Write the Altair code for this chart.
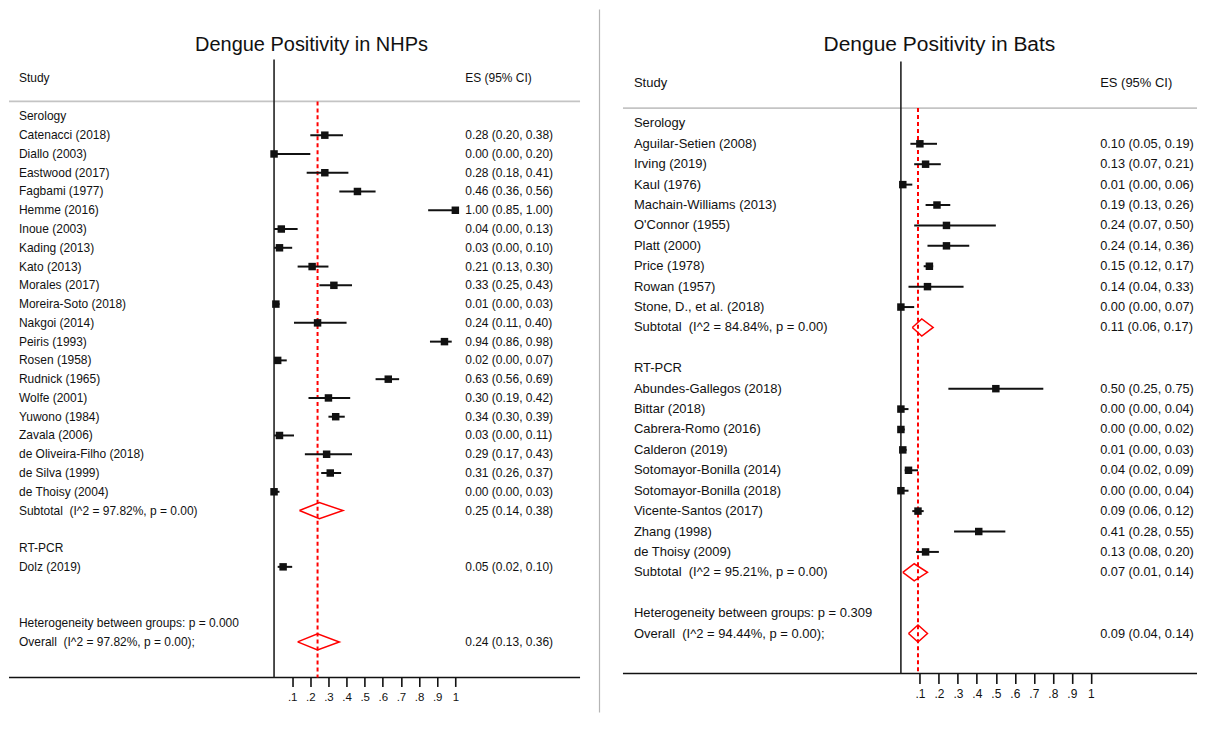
import altair as alt
import pandas as pd

# ---------------- data: Dengue positivity in NHPs ----------------
nhp_title = "Dengue Positivity in NHPs"
nhp_ser_study = ["Catenacci (2018)", "Diallo (2003)", "Eastwood (2017)", "Fagbami (1977)",
                 "Hemme (2016)", "Inoue (2003)", "Kading (2013)", "Kato (2013)",
                 "Morales (2017)", "Moreira-Soto (2018)", "Nakgoi (2014)", "Peiris (1993)",
                 "Rosen (1958)", "Rudnick (1965)", "Wolfe (2001)", "Yuwono (1984)",
                 "Zavala (2006)", "de Oliveira-Filho (2018)", "de Silva (1999)", "de Thoisy (2004)"]
nhp_ser_es = [0.28, 0.00, 0.28, 0.46, 1.00, 0.04, 0.03, 0.21, 0.33, 0.01, 0.24, 0.94,
              0.02, 0.63, 0.30, 0.34, 0.03, 0.29, 0.31, 0.00]
nhp_ser_lo = [0.20, 0.00, 0.18, 0.36, 0.85, 0.00, 0.00, 0.13, 0.25, 0.00, 0.11, 0.86,
              0.00, 0.56, 0.19, 0.30, 0.00, 0.17, 0.26, 0.00]
nhp_ser_hi = [0.38, 0.20, 0.41, 0.56, 1.00, 0.13, 0.10, 0.30, 0.43, 0.03, 0.40, 0.98,
              0.07, 0.69, 0.42, 0.39, 0.11, 0.43, 0.37, 0.03]
nhp_ser_sub = [0.25, 0.14, 0.38]
nhp_ser_sub_label = "Subtotal\u00a0 (I^2 = 97.82%, p = 0.00)"
nhp_pcr_study = ["Dolz (2019)"]
nhp_pcr_es = [0.05]
nhp_pcr_lo = [0.02]
nhp_pcr_hi = [0.10]
nhp_het_label = "Heterogeneity between groups: p = 0.000"
nhp_overall = [0.24, 0.13, 0.36]
nhp_overall_label = "Overall\u00a0 (I^2 = 97.82%, p = 0.00);"

# ---------------- data: Dengue positivity in Bats ----------------
bat_title = "Dengue Positivity in Bats"
bat_ser_study = ["Aguilar-Setien (2008)", "Irving (2019)", "Kaul (1976)",
                 "Machain-Williams (2013)", "O'Connor (1955)", "Platt (2000)",
                 "Price (1978)", "Rowan (1957)", "Stone, D., et al. (2018)"]
bat_ser_es = [0.10, 0.13, 0.01, 0.19, 0.24, 0.24, 0.15, 0.14, 0.00]
bat_ser_lo = [0.05, 0.07, 0.00, 0.13, 0.07, 0.14, 0.12, 0.04, 0.00]
bat_ser_hi = [0.19, 0.21, 0.06, 0.26, 0.50, 0.36, 0.17, 0.33, 0.07]
bat_ser_sub = [0.11, 0.06, 0.17]
bat_ser_sub_label = "Subtotal\u00a0 (I^2 = 84.84%, p = 0.00)"
bat_pcr_study = ["Abundes-Gallegos (2018)", "Bittar (2018)", "Cabrera-Romo (2016)",
                 "Calderon (2019)", "Sotomayor-Bonilla (2014)", "Sotomayor-Bonilla (2018)",
                 "Vicente-Santos (2017)", "Zhang (1998)", "de Thoisy (2009)"]
bat_pcr_es = [0.50, 0.00, 0.00, 0.01, 0.04, 0.00, 0.09, 0.41, 0.13]
bat_pcr_lo = [0.25, 0.00, 0.00, 0.00, 0.02, 0.00, 0.06, 0.28, 0.08]
bat_pcr_hi = [0.75, 0.04, 0.02, 0.03, 0.09, 0.04, 0.12, 0.55, 0.20]
bat_pcr_sub = [0.07, 0.01, 0.14]
bat_pcr_sub_label = "Subtotal\u00a0 (I^2 = 95.21%, p = 0.00)"
bat_het_label = "Heterogeneity between groups: p = 0.309"
bat_overall = [0.09, 0.04, 0.14]
bat_overall_label = "Overall\u00a0 (I^2 = 94.44%, p = 0.00);"

group_names = ["Serology", "RT-PCR"]
tick_values = [0.1, 0.2, 0.3, 0.4, 0.5, 0.6, 0.7, 0.8, 0.9, 1.0]

FONT = "Liberation Sans"
INK = "#111111"


def fmt(e, l, h):
    return f"{e:.2f} ({l:.2f}, {h:.2f})"


def build_rows(groups, het_label, overall, overall_label, extra_gap):
    texts, studies, diamonds = [], [], []
    r = 0
    did = 0
    for gname, st, es, lo, hi, sub, sub_label in groups:
        texts.append(dict(row=r, label=gname, value=""))
        r += 1
        for s, e, l, h in zip(st, es, lo, hi):
            texts.append(dict(row=r, label=s, value=fmt(e, l, h)))
            studies.append(dict(row=r, es=e, lo=l, hi=h))
            r += 1
        if sub is not None:
            texts.append(dict(row=r, label=sub_label, value=fmt(*sub)))
            diamonds.append((did, r, sub))
            did += 1
            r += 1
        r += 1
    r += extra_gap
    texts.append(dict(row=r, label=het_label, value=""))
    r += 1
    texts.append(dict(row=r, label=overall_label, value=fmt(*overall)))
    diamonds.append((did, r, overall))
    return pd.DataFrame(texts), pd.DataFrame(studies), diamonds


def panel(title, groups, het_label, overall, overall_label, extra_gap, L):
    texts, studies, dia = build_rows(groups, het_label, overall, overall_label, extra_gap)
    h = L["dh"]
    dpts = []
    for did, r, (e, l, hh) in dia:
        for k, (xx, yy) in enumerate([(l, r), (e, r - h), (hh, r), (e, r + h), (l, r)]):
            dpts.append(dict(id=did, k=k, x=xx, y=yy))
    dpts = pd.DataFrame(dpts)

    xs = alt.Scale(domain=L["xdom"], nice=False, zero=False)
    ys = alt.Scale(domain=L["ydom"], reverse=True, nice=False, zero=False)
    xaxis = alt.Axis(
        values=tick_values, title=None, grid=False, domain=False,
        tickSize=L["tick"], tickWidth=1.6, tickColor=INK,
        labelFont=FONT, labelFontSize=L["tick_fs"], labelColor=INK,
        labelPadding=L["lab_pad"], labelFlush=False, labelOverlap=False,
        labelExpr="datum.value >= 1 ? '1' : replace(format(datum.value, '.1f'), '0.', '.')")
    Y = lambda f: alt.Y(f, scale=ys, axis=None)
    X = lambda f: alt.X(f, scale=xs, axis=xaxis, title=None)
    ybot = L["ydom"][1]

    title_l = alt.Chart(pd.DataFrame({"t": [title], "row": [L["title_row"]]})).mark_text(
        font=FONT, fontSize=L["title_fs"], color=INK, align="center", baseline="middle"
    ).encode(x=alt.value(L["title_x"]), y=Y("row:Q"), text="t:N")

    head = pd.DataFrame({"row": [L["head_row"]], "a": ["Study"], "b": ["ES (95% CI)"]})
    head_a = alt.Chart(head).mark_text(font=FONT, fontSize=L["fs"], color=INK, align="left",
                                       baseline="middle").encode(
        x=alt.value(L["name_x"]), y=Y("row:Q"), text="a:N")
    head_b = alt.Chart(head).mark_text(font=FONT, fontSize=L["fs"], color=INK, align="left",
                                       baseline="middle").encode(
        x=alt.value(L["val_x"]), y=Y("row:Q"), text="b:N")

    gray = alt.Chart(pd.DataFrame({"row": [L["gray_row"]]})).mark_rule(
        color="#c4c4c4", strokeWidth=1.8).encode(
        x=alt.value(L["line_x0"]), x2=alt.value(L["line_x1"]), y=Y("row:Q"))
    base = alt.Chart(pd.DataFrame({"row": [ybot]})).mark_rule(
        color=INK, strokeWidth=1.5).encode(
        x=alt.value(L["line_x0"]), x2=alt.value(L["line_x1"]), y=Y("row:Q"))

    zero = alt.Chart(pd.DataFrame({"x": [0.0], "y1": [L["zero_top"]], "y2": [ybot]})).mark_rule(
        color="#222222", strokeWidth=1.6).encode(x=X("x:Q"), y=Y("y1:Q"), y2="y2:Q")

    ref = alt.Chart(pd.DataFrame({"x": [overall[0]], "y1": [L["gray_row"]], "y2": [ybot]})).mark_rule(
        color="#ff0000", strokeWidth=2, strokeDash=[4, 3]).encode(x=X("x:Q"), y=Y("y1:Q"), y2="y2:Q")

    ci = alt.Chart(studies).mark_rule(color=INK, strokeWidth=2).encode(
        x=X("lo:Q"), x2="hi:Q", y=Y("row:Q"))

    sq = alt.Chart(studies).mark_square(size=L["sq"], color=INK, filled=True, opacity=1).encode(
        x=X("es:Q"), y=Y("row:Q"))

    dmd = alt.Chart(dpts).mark_line(color="#ff0000", strokeWidth=1.5).encode(
        x=X("x:Q"), y=Y("y:Q"), detail="id:N", order="k:Q")

    names = alt.Chart(texts).mark_text(font=FONT, fontSize=L["fs"], color=INK, align="left",
                                       baseline="middle").encode(
        x=alt.value(L["name_x"]), y=Y("row:Q"), text="label:N")
    vals = alt.Chart(texts).mark_text(font=FONT, fontSize=L["vfs"], color=INK, align="left",
                                      baseline="middle").encode(
        x=alt.value(L["val_x"]), y=Y("row:Q"), text="value:N")

    layers = [gray, base, zero, ref, ci, sq, dmd, title_l, head_a, head_b, names, vals]
    if L.get("sep_x") is not None:
        sep = alt.Chart(pd.DataFrame({"a": [0]})).mark_rule(color="#b5b5b5", strokeWidth=1.2).encode(
            x=alt.value(L["sep_x"]), y=alt.value(0), y2=alt.value(L["sep_y2"]))
        layers.append(sep)
    return alt.layer(*layers).properties(width=L["w"], height=L["h"])


left_layout = dict(
    w=592, h=669, xdom=[-1.46200, 1.79791], ydom=[-5.6915, 29.8936],
    title_row=-3.83, title_x=303, title_fs=20, head_row=-2.04, gray_row=-0.80,
    zero_top=-3.03, name_x=10, val_x=457, fs=12, vfs=12, line_x0=0, line_x1=572,
    dh=0.43, sq=56, tick=9, tick_fs=11.5, lab_pad=5, sep_x=591.5, sep_y2=704,
)
right_layout = dict(
    w=598, h=665, xdom=[-1.58465, 1.55941], ydom=[-5.5773, 26.957],
    title_row=-3.82, title_x=340, title_fs=21, head_row=-2.0, gray_row=-0.75,
    zero_top=-3.03, name_x=34, val_x=501, fs=13, vfs=12.8, line_x0=23, line_x1=598,
    dh=0.42, sq=56, tick=10, tick_fs=12, lab_pad=5,
)

left = panel(
    nhp_title,
    [(group_names[0], nhp_ser_study, nhp_ser_es, nhp_ser_lo, nhp_ser_hi, nhp_ser_sub, nhp_ser_sub_label),
     (group_names[1], nhp_pcr_study, nhp_pcr_es, nhp_pcr_lo, nhp_pcr_hi, None, None)],
    nhp_het_label, nhp_overall, nhp_overall_label, 1, left_layout)

right = panel(
    bat_title,
    [(group_names[0], bat_ser_study, bat_ser_es, bat_ser_lo, bat_ser_hi, bat_ser_sub, bat_ser_sub_label),
     (group_names[1], bat_pcr_study, bat_pcr_es, bat_pcr_lo, bat_pcr_hi, bat_pcr_sub, bat_pcr_sub_label)],
    bat_het_label, bat_overall, bat_overall_label, 0, right_layout)

chart = alt.hconcat(left, right, spacing=0, bounds="flush").properties(
    padding=0, background="white"
).configure_view(strokeWidth=0)

chart.save("out.html", embed_options={"renderer": "svg", "actions": False})
